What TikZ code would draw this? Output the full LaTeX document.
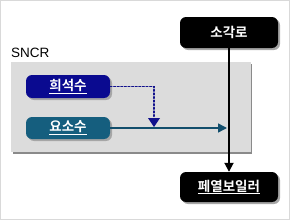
\documentclass[tikz,border=0pt]{standalone}
\usepackage{fontspec}
\setmainfont{Liberation Sans}
\newfontfamily\kr{Noto Sans CJK KR}[BoldFont={* Bold}]
\usetikzlibrary{arrows.meta}
\definecolor{navyfill}{HTML}{0A0A90}
\definecolor{tealfill}{HTML}{155E7E}
\definecolor{panel}{HTML}{DCDCDC}
\definecolor{panelshadow}{HTML}{8A8A8A}
\definecolor{dotblue}{HTML}{10108C}
\definecolor{tealline}{HTML}{124E6C}
\newcommand{\ul}[1]{\underline{#1}}
\tikzset{
  box/.style={rounded corners=6pt, minimum height=#1, inner sep=0pt, text=white,
    font=\kr\bfseries\fontsize{13.5}{14}\selectfont},
  shadowbox/.style={fill=gray!70, rounded corners=6pt},
}
\begin{document}
\begin{tikzpicture}[x=1pt,y=-1pt]
\useasboundingbox (0,0) rectangle (290,220);
\draw[gray!30, line width=1pt] (0.5,0.5) rectangle (289.5,219.5);
% panel
\fill[panelshadow] (13,64) rectangle (252,153.5);
\fill[panel] (11,62) rectangle (250.5,151.5);
\node[anchor=base west, inner sep=0pt, font=\fontsize{13.5}{14}\selectfont] (sncr) at (11,57) {SNCR};
% boxes shadows
\fill[shadowbox] (28,77) rectangle (112,100);
\fill[shadowbox] (28,119) rectangle (112,141);
\fill[shadowbox] (182,19) rectangle (280,50);
\fill[shadowbox] (182,174) rectangle (280,204);
% boxes
\node[box=23pt, fill=navyfill, minimum width=84pt] (hs) at (68,86.5) {\ul{희석수}};
\node[box=22pt, fill=tealfill, minimum width=84pt] (ys) at (68,128) {\ul{요소수}};
\node[box=31pt, fill=black, minimum width=98pt] (sg) at (229,32.5) {소각로};
\node[box=30pt, fill=black, minimum width=98pt] (pb) at (229,187) {\ul{페열보일러}};
% connectors
\coordinate (dd) at (154,127);
\coordinate (tt) at (227,128);
\draw[dotblue, line width=1.6pt, dotted, line cap=round] (hs.east) -- (154,86.5) -- (154,118);
\fill[dotblue] (148,118) -- (160,118) -- (dd) -- cycle;
\draw[tealline, line width=1.5pt, -{Triangle[length=9pt,width=9pt]}] (ys.east) -- (tt);
\draw[black, line width=1.8pt, -{Triangle[length=9pt,width=9pt]}] (sg.south) -- (pb.north);
\end{tikzpicture}
\end{document}
